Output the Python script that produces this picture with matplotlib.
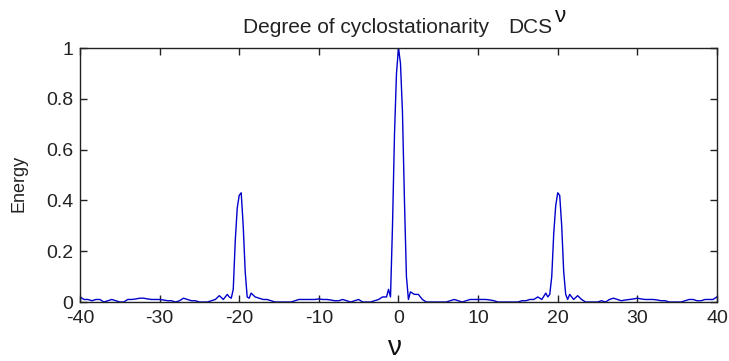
import numpy as np
import matplotlib
matplotlib.use("Agg")
import matplotlib.pyplot as plt

plt.rcParams['font.family'] = ['Liberation Sans', 'DejaVu Sans']

# --- data (nu grid: 0.5 steps on baseline, 0.25 steps across the peaks) ---
nu_a = np.arange(-40, -21.49, 0.5)      # 38 pts
nu_p1 = np.arange(-21.25, -18.74, 0.25)  # 11 pts
nu_b = np.arange(-18.5, -1.49, 0.5)      # 35 pts
nu_p0 = np.arange(-1.25, 1.26, 0.25)     # 11 pts
nu_c = np.arange(1.5, 18.51, 0.5)        # 35 pts
nu_p2 = np.arange(18.75, 21.26, 0.25)    # 11 pts
nu_d = np.arange(21.5, 40.01, 0.5)       # 38 pts

e_a = [0.02, 0.01, 0.01, 0.005, 0.01, 0.01, 0.0, 0.005, 0.01, 0.005,
       0.0, 0.0, 0.01, 0.01, 0.012, 0.015, 0.015, 0.012, 0.01, 0.01,
       0.01, 0.008, 0.005, 0.005, 0.0, 0.005, 0.015, 0.01, 0.005, 0.005,
       0.0, 0.0, 0.0, 0.005, 0.01, 0.025, 0.01, 0.03]
e_p1 = [0.02, 0.015, 0.05, 0.24, 0.37, 0.42, 0.43, 0.3, 0.12, 0.02, 0.015]
e_b = [0.035, 0.02,
       0.015, 0.01, 0.01, 0.005, 0.0, 0.0, 0.0, 0.0, 0.0, 0.005,
       0.01, 0.01, 0.01, 0.01, 0.01, 0.012, 0.01, 0.01, 0.008, 0.005,
       0.005, 0.01, 0.005, 0.0, 0.005, 0.01, 0.0, 0.0, 0.0, 0.005, 0.01,
       0.02, 0.02]
e_p0 = [0.05, 0.02, 0.3, 0.66, 0.9, 1.0, 0.94, 0.75, 0.4, 0.1, 0.01]
e_c = [0.04, 0.03,
       0.03, 0.01, 0.0, 0.0, 0.0, 0.0, 0.0, 0.0, 0.005, 0.01,
       0.005, 0.0, 0.005, 0.01, 0.01, 0.01, 0.01, 0.01, 0.008, 0.005,
       0.0, 0.0, 0.0, 0.0, 0.0, 0.0, 0.005, 0.005, 0.01, 0.01, 0.02,
       0.01, 0.035]
e_p2 = [0.02, 0.03, 0.1, 0.27, 0.38, 0.43, 0.42, 0.3, 0.12, 0.03, 0.01]
e_d = [0.03, 0.01,
       0.025, 0.01, 0.0, 0.0, 0.0, 0.0, 0.005, 0.0, 0.01, 0.015,
       0.01, 0.005, 0.008, 0.01, 0.012, 0.015, 0.012, 0.01, 0.01, 0.01,
       0.008, 0.005, 0.005, 0.0, 0.0, 0.0, 0.0, 0.005, 0.01, 0.01,
       0.005, 0.005, 0.01, 0.01, 0.01, 0.02]

nu = np.concatenate([nu_a, nu_p1, nu_b, nu_p0, nu_c, nu_p2, nu_d])
energy = np.array(e_a + e_p1 + e_b + e_p0 + e_c + e_p2 + e_d)

xticks = [-40, -30, -20, -10, 0, 10, 20, 30, 40]
yticks = [0, 0.2, 0.4, 0.6, 0.8, 1]
ylabels = ['0', '0.2', '0.4', '0.6', '0.8', '1']

fig = plt.figure(figsize=(7.29, 3.61), dpi=100)
ax = fig.add_axes([0.1097, 0.1634, 0.8738, 0.7036])
ax.plot(nu, energy, color=(0.0, 0.0, 0.8), lw=1.0)
ax.set_xlim(-40, 40)
ax.set_ylim(0, 1)
ax.set_xticks(xticks)
ax.set_xticklabels([str(t) for t in xticks])
ax.set_yticks(yticks)
ax.set_yticklabels(ylabels)
ax.tick_params(direction='in', top=True, right=True, labelsize=14,
               length=5, width=1, colors='#222222')
ax.tick_params(axis='y', pad=5)
ax.tick_params(axis='x', pad=6)
for s in ax.spines.values():
    s.set_linewidth(1.0)
    s.set_color('#222222')

fig.text(0.026, 0.493, 'Energy', fontsize=13, rotation=90,
         ha='center', va='center', color='#222222')
fig.text(0.542, 0.018, 'ν', fontsize=20, ha='center', va='baseline',
         color='#111111')
fig.text(0.3333, 0.9086, 'Degree of cyclostationarity', fontsize=15,
         ha='left', va='baseline', color='#222222')
fig.text(0.6968, 0.9086, 'DCS', fontsize=15, ha='left', va='baseline',
         color='#222222')
fig.text(0.7613, 0.939, 'ν', fontsize=16, ha='left', va='baseline',
         color='#111111')
fig.savefig('out.png', dpi=100, facecolor='white')
